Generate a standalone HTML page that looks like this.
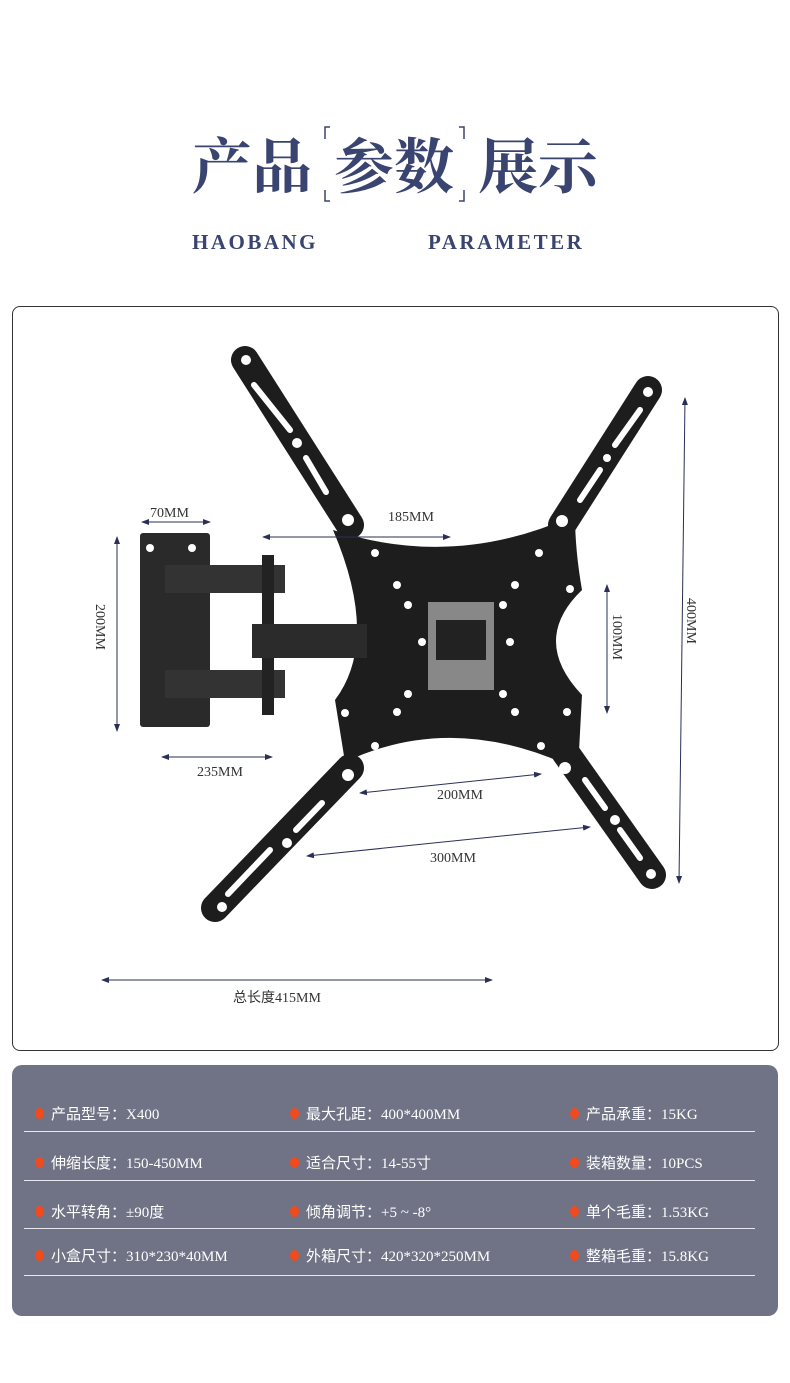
<!DOCTYPE html>
<html><head><meta charset="utf-8"><style>
body{margin:0;width:790px;height:1383px;background:#fff;position:relative;font-family:"Liberation Serif","Noto Serif CJK SC",serif;overflow:hidden}
.t{position:absolute;white-space:nowrap}
.title{top:128px;font-size:60px;font-weight:bold;color:#3a4470;font-family:"Noto Serif CJK SC",serif;line-height:70px}
.en{top:230px;font-size:21px;font-weight:bold;color:#3a4470;letter-spacing:2.5px}
.panel{position:absolute;left:12px;top:1065px;width:766px;height:251px;background:#6f7385;border-radius:10px}
.row{position:absolute;left:12px;width:731px;border-bottom:1.5px solid #e8e8f0}
.c{position:absolute;color:#fff;font-size:15px;font-family:"Liberation Serif","Noto Sans CJK SC",serif}
.c:before{content:"";position:absolute;left:-16px;top:5px;width:9px;height:11px;border-radius:50%;background:#f04a1f}
</style></head><body>
<div class="t title" style="left:192px">产品</div>
<div class="t title" style="left:334px">参数</div>
<div class="t title" style="left:478px">展示</div>
<svg style="position:absolute;left:0;top:0" width="790" height="300">
<path d="M330 127h-5v12M325 190v11h5M459 127h5v12M464 190v11h-5" stroke="#3a4470" stroke-width="1.5" fill="none"/>
</svg>
<div class="t en" style="left:192px">HAOBANG</div>
<div class="t en" style="left:428px">PARAMETER</div>

<div style="position:absolute;left:12px;top:306px;width:765px;height:743px;border:1px solid #333;border-radius:8px"></div>

<svg style="position:absolute;left:0;top:0" width="790" height="1060">
<defs><marker id="a" markerWidth="8" markerHeight="6" refX="7" refY="3" orient="auto-start-reverse"><path d="M0 0L8 3L0 6z" fill="#2a2f55"/></marker></defs>
<g stroke="#1d1d1d" stroke-width="28" stroke-linecap="round">
<line x1="245" y1="360" x2="350" y2="525"/>
<line x1="648" y1="390" x2="562" y2="525"/>
<line x1="215" y1="908" x2="350" y2="768"/>
<line x1="652" y1="875" x2="565" y2="752"/>
</g>
<g stroke="#fff" stroke-width="6" stroke-linecap="round">
<line x1="254" y1="385" x2="290" y2="430"/><line x1="306" y1="458" x2="326" y2="492"/>
<line x1="640" y1="410" x2="615" y2="445"/><line x1="600" y1="470" x2="580" y2="500"/>
<line x1="228" y1="894" x2="270" y2="850"/><line x1="296" y1="830" x2="322" y2="803"/>
<line x1="640" y1="858" x2="620" y2="830"/><line x1="605" y1="808" x2="585" y2="780"/>
</g>
<g fill="#1d1d1d">
<path d="M333 530 Q455 570 575 515 Q575 550 582 590 Q530 640 582 695 L578 770 Q455 710 345 762 L335 700 Q380 640 333 530Z"/>
<!-- wall plate -->
<rect x="140" y="533" width="70" height="194" rx="3" fill="#2a2a2a"/>
<rect x="165" y="565" width="120" height="28" fill="#333"/>
<rect x="165" y="670" width="120" height="28" fill="#333"/>
<rect x="262" y="555" width="12" height="160" fill="#222"/>
<rect x="252" y="624" width="115" height="34" fill="#2b2b2b"/>
<rect x="428" y="602" width="66" height="88" fill="#888"/>
<rect x="436" y="620" width="50" height="40" fill="#222"/>
</g>
<g fill="#fff">
<circle cx="246" cy="360" r="5"/><circle cx="297" cy="443" r="5"/><circle cx="648" cy="392" r="5"/><circle cx="607" cy="458" r="4"/>
<circle cx="222" cy="907" r="5"/><circle cx="287" cy="843" r="5"/><circle cx="651" cy="874" r="5"/><circle cx="615" cy="820" r="5"/>
<circle cx="348" cy="520" r="6"/><circle cx="562" cy="521" r="6"/><circle cx="348" cy="775" r="6"/><circle cx="565" cy="768" r="6"/>
<circle cx="375" cy="553" r="4"/><circle cx="539" cy="553" r="4"/><circle cx="345" cy="590" r="4"/><circle cx="570" cy="589" r="4"/>
<circle cx="397" cy="585" r="4"/><circle cx="515" cy="585" r="4"/><circle cx="408" cy="605" r="4"/><circle cx="503" cy="605" r="4"/>
<circle cx="422" cy="642" r="4"/><circle cx="510" cy="642" r="4"/><circle cx="408" cy="694" r="4"/><circle cx="503" cy="694" r="4"/>
<circle cx="397" cy="712" r="4"/><circle cx="515" cy="712" r="4"/><circle cx="345" cy="713" r="4"/><circle cx="567" cy="712" r="4"/>
<circle cx="375" cy="746" r="4"/><circle cx="541" cy="746" r="4"/>
<circle cx="150" cy="548" r="4"/><circle cx="192" cy="548" r="4"/>
</g>
<g stroke="#2a2f55" stroke-width="1" fill="none" marker-start="url(#a)" marker-end="url(#a)">
<line x1="142" y1="522" x2="210" y2="522"/>
<line x1="263" y1="537" x2="450" y2="537"/>
<line x1="117" y1="537" x2="117" y2="731"/>
<line x1="162" y1="757" x2="272" y2="757"/>
<line x1="607" y1="585" x2="607" y2="713"/>
<line x1="685" y1="398" x2="679" y2="883"/>
<line x1="360" y1="793" x2="541" y2="774"/>
<line x1="307" y1="856" x2="590" y2="827"/>
<line x1="102" y1="980" x2="492" y2="980"/>
</g>
<g fill="#333" font-family="Liberation Serif,Noto Serif CJK SC,serif" font-size="14">
<text x="150" y="517">70MM</text>
<text x="388" y="521">185MM</text>
<text x="197" y="776">235MM</text>
<text x="437" y="799">200MM</text>
<text x="430" y="862">300MM</text>
<text x="233" y="1002" font-family="Liberation Serif,Noto Sans CJK SC,serif">总长度415MM</text>
<text transform="translate(96,604) rotate(90)">200MM</text>
<text transform="translate(613,614) rotate(90)">100MM</text>
<text transform="translate(687,598) rotate(90)">400MM</text>
</g>
</svg>

<div class="panel">
<div class="row" style="top:0;height:66px"></div>
<div class="row" style="top:66px;height:49px"></div>
<div class="row" style="top:115px;height:48px"></div>
<div class="row" style="top:163px;height:47px"></div>
<div class="c" style="left:39px;top:38px">产品型号：X400</div>
<div class="c" style="left:294px;top:38px">最大孔距：400*400MM</div>
<div class="c" style="left:574px;top:38px">产品承重：15KG</div>
<div class="c" style="left:39px;top:87px">伸缩长度：150-450MM</div>
<div class="c" style="left:294px;top:87px">适合尺寸：14-55寸</div>
<div class="c" style="left:574px;top:87px">装箱数量：10PCS</div>
<div class="c" style="left:39px;top:136px">水平转角：±90度</div>
<div class="c" style="left:294px;top:136px">倾角调节：+5 ~ -8°</div>
<div class="c" style="left:574px;top:136px">单个毛重：1.53KG</div>
<div class="c" style="left:39px;top:180px">小盒尺寸：310*230*40MM</div>
<div class="c" style="left:294px;top:180px">外箱尺寸：420*320*250MM</div>
<div class="c" style="left:574px;top:180px">整箱毛重：15.8KG</div>
</div>
</body></html>
